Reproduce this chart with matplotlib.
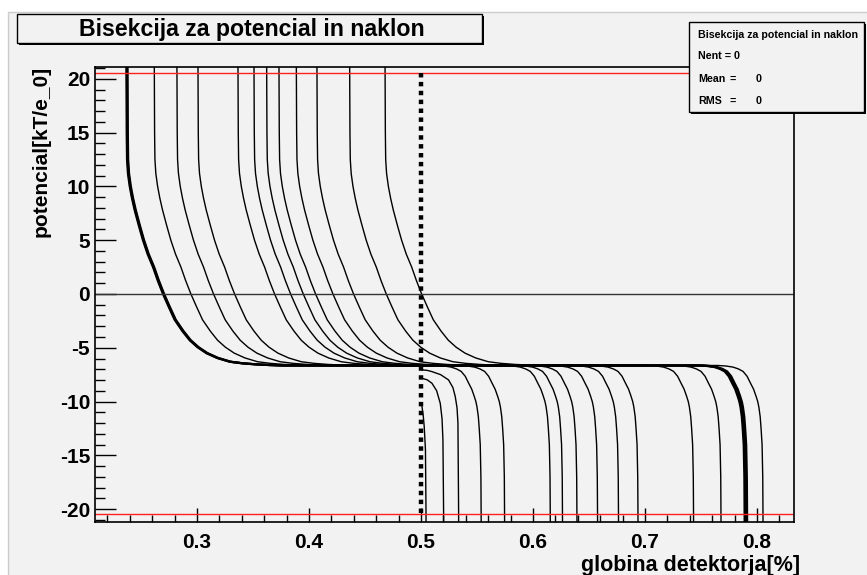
import matplotlib
matplotlib.use("Agg")
import matplotlib.pyplot as plt
from matplotlib.patches import Rectangle
import numpy as np

plt.rcParams['font.family'] = ['Liberation Sans', 'DejaVu Sans']
plt.rcParams['axes.unicode_minus'] = False

# curves coming from the top: x where each one leaves the top edge
left_start_x = [0.2370, 0.2375, 0.2380, 0.2619, 0.2821, 0.3009, 0.3366,
                0.3509, 0.3622, 0.3732, 0.3887, 0.4071, 0.4363, 0.4679]
# same curves: x where they hit the bottom after the plateau
right_end_x = [0.7890, 0.7900, 0.7912, 0.5538, 0.5747, 0.6155, 0.6264,
               0.6393, 0.6577, 0.6764, 0.6938, 0.7434, 0.7679, 0.8054]

# shape of the falling part (offset from start x, potential)
left_dx = [0.0, 0.0003, 0.0006, 0.0014, 0.0030, 0.0050, 0.0074, 0.0110,
           0.0148, 0.0190, 0.0238, 0.0280, 0.0327, 0.0378, 0.0431, 0.0500,
           0.0565, 0.0635, 0.0714, 0.0810, 0.0922, 0.1035, 0.116, 0.128, 0.14]
left_y = [22.0, 15.0, 12.5, 11.2, 10.0, 8.9, 7.8, 6.4,
          5.0, 3.7, 2.5, 1.25, 0.0, -1.2, -2.4, -3.45,
          -4.3, -4.95, -5.5, -5.95, -6.3, -6.45, -6.55, -6.61, -6.65]
# shape of the drop after the plateau (offset from end x, potential)
right_dx = [-0.0402, -0.0330, -0.0268, -0.0220, -0.0179, -0.0143, -0.0112,
            -0.0085, -0.0063, -0.0048, -0.0038, -0.0026, -0.0018, -0.0009,
            -0.0003, 0.0]
right_y = [-6.65, -6.7, -6.8, -6.97, -7.2, -7.65, -8.3,
           -8.85, -9.5, -10.0, -10.5, -11.4, -12.5, -14.0, -17.0, -22.0]

# curves that start on the dashed line below the plateau
mid_a_x = [0.5009, 0.5055, 0.5098, 0.5175, 0.5246, 0.5285, 0.5306, 0.5322, 0.5330, 0.5336, 0.5336]
mid_a_y = [-7.06, -7.10, -7.22, -7.50, -7.99, -8.70, -9.54, -10.6, -12.01, -20.35, -22.0]
mid_b_x = [0.5009, 0.5055, 0.5098, 0.5140, 0.5172, 0.5188, 0.5196, 0.5202, 0.5202]
mid_b_y = [-7.84, -7.98, -8.3, -9.0, -10.16, -11.6, -13.57, -20.38, -22.0]
mid_c_x = [0.5009, 0.5020, 0.5029, 0.5040, 0.5045, 0.5045]
mid_c_y = [-10.47, -11.3, -12.33, -14.5, -20.4, -22.0]

x_ticks = [0.3, 0.4, 0.5, 0.6, 0.7, 0.8]
y_ticks = [-20, -15, -10, -5, 0, 5, 10, 15, 20]
bisect_x = 0.5
limit_y = 20.5

bgc = '#f2f2f2'
W, H = 867, 575
fig = plt.figure(figsize=(W / 100, H / 100), dpi=100)
fig.patch.set_facecolor('white')

bg = fig.add_axes([0, 0, 1, 1], zorder=0)
bg.set_xlim(0, W)
bg.set_ylim(H, 0)
bg.axis('off')
bg.add_patch(Rectangle((8, 12), W, H, facecolor=bgc, edgecolor='#cccccc', lw=1))

ax = fig.add_axes([95 / W, 1 - 522 / H, (794 - 95) / W, (522 - 67) / H], zorder=1)
ax.set_facecolor(bgc)

for i, (xs, xe) in enumerate(zip(left_start_x, right_end_x)):
    xx = [xs + d for d in left_dx] + [xe + d for d in right_dx]
    yy = left_y + right_y
    # first three overlap into the heavy outer curve
    ax.plot(xx, yy, color='black', lw=1.6 if i < 3 else 1.0, solid_joinstyle='round')

for mx, my in [(mid_a_x, mid_a_y), (mid_b_x, mid_b_y), (mid_c_x, mid_c_y)]:
    ax.plot(mx, my, color='black', lw=1.0, solid_joinstyle='round')

ax.axhline(0, color='#333333', lw=1.0)
ax.axhline(limit_y, color='#ff2020', lw=1.0)
ax.axhline(-limit_y, color='#ff2020', lw=1.0)
ax.plot([bisect_x, bisect_x], [limit_y, -limit_y], color='black', lw=3.2,
        linestyle=(0, (1, 1)))

ax.set_xlim(0.209, 0.833)
ax.set_ylim(-21.2, 21.1)
ax.set_xticks(x_ticks)
ax.set_xticklabels([f'{v:.1f}' for v in x_ticks])
ax.set_xticks(np.arange(0.22, 0.83, 0.02), minor=True)
ax.set_yticks(y_ticks)
ax.set_yticks(np.arange(-21, 22, 1), minor=True)

ax.tick_params(axis='x', which='major', direction='in', length=10, width=1, pad=8)
ax.tick_params(axis='x', which='minor', direction='in', length=5, width=1)
ax.tick_params(axis='y', which='major', direction='in', length=15, width=1, pad=3.5)
ax.tick_params(axis='y', which='minor', direction='in', length=7.5, width=1)
for lab in ax.get_xticklabels() + ax.get_yticklabels():
    lab.set_fontsize(15)
    lab.set_fontweight('bold')
for s in ax.spines.values():
    s.set_linewidth(1.2)

fig.text(41 / W, 1 - 66 / H, 'potencial[kT/e_0]', rotation=90, ha='center', va='top',
         fontsize=15, fontweight='bold')
fig.text(800 / W, 1 - 565 / H, 'globina detektorja[%]', ha='right', va='center',
         fontsize=15.5, fontweight='bold')

ov = fig.add_axes([0, 0, 1, 1], zorder=5)
ov.set_xlim(0, W)
ov.set_ylim(H, 0)
ov.patch.set_alpha(0)
ov.axis('off')

# title box
ov.add_patch(Rectangle((19, 16), 465, 29, facecolor='black', lw=0))
ov.add_patch(Rectangle((17, 14), 465, 29, facecolor=bgc, edgecolor='black', lw=1))
ov.text(252, 29.5, 'Bisekcija za potencial in naklon', ha='center', va='center',
        fontsize=16.7, fontweight='bold')

# stats box
ov.add_patch(Rectangle((691, 24), 175, 90, facecolor='black', lw=0))
ov.add_patch(Rectangle((689, 22), 175, 90, facecolor=bgc, edgecolor='black', lw=1))
ov.text(698, 35, 'Bisekcija za potencial in naklon', ha='left', va='center',
        fontsize=7.7, fontweight='bold')
ov.text(698, 56, 'Nent = 0', ha='left', va='center', fontsize=7.7, fontweight='bold')
for yy, name in [(79, 'Mean'), (101, 'RMS')]:
    ov.text(698, yy, name, ha='left', va='center', fontsize=7.7, fontweight='bold')
    ov.text(730, yy, '=', ha='left', va='center', fontsize=7.7, fontweight='bold')
    ov.text(756, yy, '0', ha='left', va='center', fontsize=7.7, fontweight='bold')

fig.savefig('out.png', dpi=100, facecolor='white')
